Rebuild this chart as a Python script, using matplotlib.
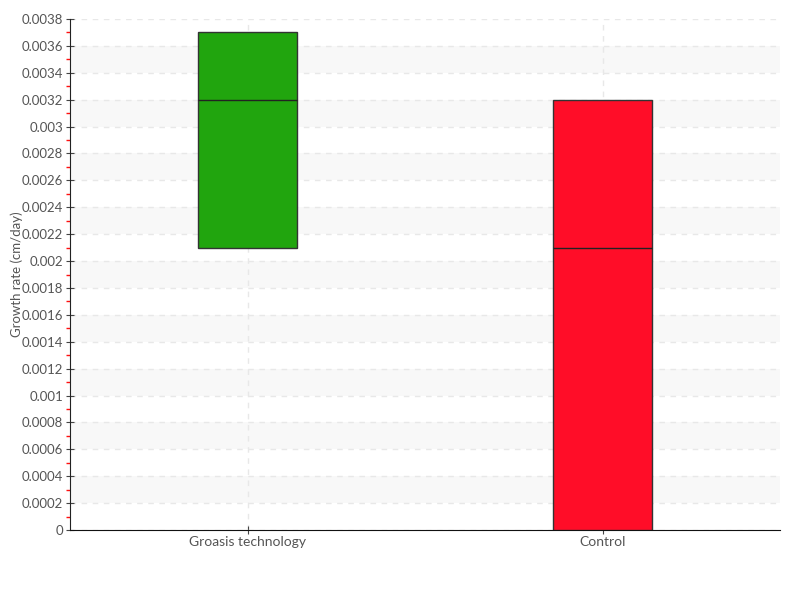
import numpy as np
import matplotlib
matplotlib.use("Agg")
import matplotlib.pyplot as plt
from matplotlib.ticker import MultipleLocator, FuncFormatter

# -------------------------------------------------------
# Data
# -------------------------------------------------------
groups  = ["Groasis technology", "Control"]
q_low   = [0.0021, 0.0]
q_high  = [0.0037, 0.0032]
medians = [0.0032, 0.0021]
colors  = ["#21a50e", "#ff0d28"]

plt.rcParams['font.family'] = ['Lato', 'DejaVu Sans']

fig = plt.figure(figsize=(8, 6), dpi=100)
ax = fig.add_axes([0.0875, 0.1167, 0.8875, 0.8516])

x = np.arange(len(groups))
width = 0.28
heights = [h - l for h, l in zip(q_high, q_low)]

# alternating background bands
for lo in np.arange(0.0002, 0.0038, 0.0004):
    ax.axhspan(lo, lo + 0.0002, color="#f8f8f8", zorder=0, lw=0)

ax.bar(x, heights, width=width, bottom=q_low, color=colors,
       edgecolor="#333333", linewidth=1, zorder=3)
ax.hlines(medians, x - width / 2, x + width / 2, colors="#222222",
          linewidth=1, zorder=4)

ax.set_xlim(-0.5, 1.5)
ax.set_ylim(0, 0.0038)
ax.set_xticks(x)
ax.set_xticklabels(groups)
ax.yaxis.set_major_locator(MultipleLocator(0.0002))
ax.yaxis.set_minor_locator(MultipleLocator(0.0001))
ax.yaxis.set_major_formatter(
    FuncFormatter(lambda v, p: f"{v:.4f}".rstrip('0').rstrip('.') if v else "0"))

ax.grid(True, axis="both", which="major", linestyle=(0, (4, 4)),
        color="#e8e8e8", linewidth=1, zorder=1)
ax.set_axisbelow(True)

for side in ("top", "right"):
    ax.spines[side].set_visible(False)
ax.spines["left"].set_color("#222222")
ax.spines["bottom"].set_color("#111111")

ax.tick_params(axis="y", which="major", direction="inout", length=6,
               color="#444444", labelsize=9.5, labelcolor="#555555", pad=2)
ax.tick_params(axis="y", which="minor", direction="out", length=3,
               width=1, color="#ff1010")
ax.tick_params(axis="x", which="major", direction="inout", length=6,
               color="#444444", labelsize=10, labelcolor="#555555", pad=1)

ax.set_ylabel("Growth rate (cm/day)", fontsize=9.5, color="#555555")
ax.yaxis.set_label_coords(-0.066, 0.5)

fig.savefig("out.png", dpi=100)
